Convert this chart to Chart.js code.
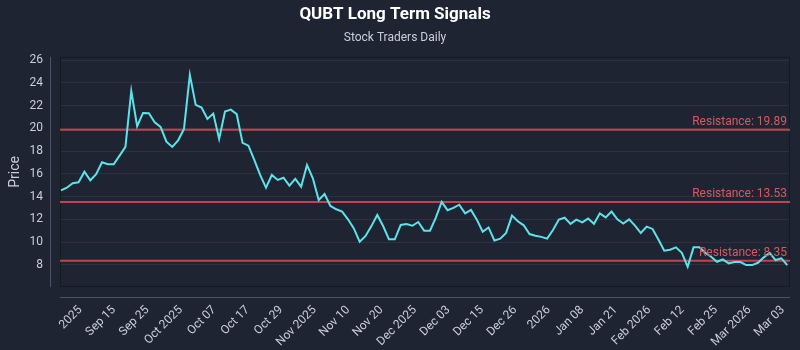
<!DOCTYPE html>
<html>
<head>
<meta charset="utf-8">
<script src="https://cdn.jsdelivr.net/npm/chart.js@4.4.1/dist/chart.umd.min.js"></script>
<style>
    html, body { margin: 0; padding: 0; background: #1f2433; }
    #wrap { width: 800px; height: 350px; }
</style>
</head>
<body>
<div id="wrap"><canvas id="chart"></canvas></div>
<script>
// daily closes, Sep 2025 - Mar 2026
const prices = [
    14.55, 14.78, 15.17, 15.26, 16.19, 15.43, 15.96, 17.02, 16.84, 16.84,
    17.6, 18.37, 23.3, 20.19, 21.36, 21.34, 20.54, 20.13, 18.83, 18.37,
    18.95, 19.95, 24.71, 22.07, 21.83, 20.83, 21.3, 19.07, 21.48, 21.65,
    21.25, 18.72, 18.48, 17.22, 15.9, 14.78, 15.9, 15.46, 15.66, 14.96,
    15.55, 14.87, 16.78, 15.61, 13.7, 14.23, 13.17, 12.88, 12.67, 12.0,
    11.2, 10.02, 10.53, 11.4, 12.38, 11.41, 10.24, 10.24, 11.5, 11.58,
    11.43, 11.76, 11.0, 11.0, 12.15, 13.53, 12.8, 13.0, 13.28, 12.52,
    12.82, 11.97, 10.9, 11.28, 10.14, 10.3, 10.8, 12.32, 11.82, 11.47,
    10.7, 10.55, 10.45, 10.3, 11.05, 11.97, 12.14, 11.6, 11.97, 11.73,
    12.06, 11.6, 12.52, 12.17, 12.68, 11.99, 11.62, 11.99, 11.44, 10.79,
    11.35, 11.15, 10.22, 9.23, 9.32, 9.53, 9.05, 7.82, 9.53, 9.53,
    9.05, 8.7, 8.26, 8.47, 8.12, 8.24, 8.24, 7.97, 7.97, 8.17,
    8.65, 9.05, 8.41, 8.56, 7.97
];

const tickLabels = [
    '2025', 'Sep 15', 'Sep 25', 'Oct 2025', 'Oct 07', 'Oct 17', 'Oct 29',
    'Nov 2025', 'Nov 10', 'Nov 20', 'Dec 2025', 'Dec 03', 'Dec 15', 'Dec 26',
    '2026', 'Jan 08', 'Jan 21', 'Feb 2026', 'Feb 12', 'Feb 25', 'Mar 2026', 'Mar 03'
];

const priceTicks = [8, 10, 12, 14, 16, 18, 20, 22, 24, 26];

const resistanceLevels = [19.89, 13.53, 8.35];

const textColor = '#c9ced8';
const lineColor = '#5ee2ea';
const resColor = '#c0444c';
const resLabelColor = '#d45a61';

Chart.defaults.font.family = "Roboto, sans-serif";
Chart.defaults.color = textColor;

// plot frame, offset axis lines and resistance levels
const frame = {
    id: 'frame',
    beforeDatasetsDraw(chart) {
        const {ctx, chartArea: a, scales: {y}} = chart;
        ctx.save();
        ctx.strokeStyle = '#151922';
        ctx.lineWidth = 1;
        ctx.strokeRect(a.left + 0.5, a.top + 0.5, a.width - 1, a.height - 1);

        ctx.strokeStyle = '#4c5364';
        ctx.beginPath();
        ctx.moveTo(a.left - 9.5, a.top);
        ctx.lineTo(a.left - 9.5, a.bottom);
        ctx.moveTo(a.left, a.bottom + 10.5);
        ctx.lineTo(a.right, a.bottom + 10.5);
        ctx.stroke();

        ctx.strokeStyle = resColor;
        ctx.lineWidth = 2;
        resistanceLevels.forEach(r => {
            const py = y.getPixelForValue(r);
            ctx.beginPath();
            ctx.moveTo(a.left, py);
            ctx.lineTo(a.right, py);
            ctx.stroke();
        });
        ctx.restore();
    },
    afterDatasetsDraw(chart) {
        const {ctx, chartArea: a, scales: {y}} = chart;
        ctx.save();
        ctx.fillStyle = resLabelColor;
        ctx.font = "12px " + Chart.defaults.font.family;
        ctx.textAlign = 'right';
        ctx.textBaseline = 'bottom';
        resistanceLevels.forEach(r => {
            ctx.fillText('Resistance: ' + r.toFixed(2), a.right - 3, y.getPixelForValue(r) - 2);
        });
        ctx.restore();
    }
};

new Chart(document.getElementById('chart'), {
    type: 'line',
    data: {
        datasets: [{
            data: prices.map((p, i) => ({x: i, y: p})),
            borderColor: lineColor,
            borderWidth: 2,
            pointRadius: 0,
            tension: 0
        }]
    },
    options: {
        responsive: true,
        maintainAspectRatio: false,
        animation: false,
        layout: {padding: {top: 0, right: 10, bottom: 0, left: 0}},
        plugins: {
            legend: {display: false},
            tooltip: {enabled: false},
            title: {
                display: true,
                text: 'QUBT Long Term Signals',
                color: '#ffffff',
                font: {size: 17, weight: 'bold'},
                padding: {top: 5, bottom: 5}
            },
            subtitle: {
                display: true,
                text: 'Stock Traders Daily',
                color: textColor,
                font: {size: 12},
                padding: {top: 0, bottom: 12}
            }
        },
        scales: {
            x: {
                type: 'linear',
                min: -0.17,
                max: 124.47,
                grid: {display: false, drawTicks: false},
                border: {display: false},
                afterBuildTicks: scale => {
                    scale.ticks = tickLabels.map((t, k) => ({value: 3.33 + k * 5.71}));
                },
                afterFit: scale => {
                    scale.height = 63;
                    scale.paddingLeft = 0;
                    scale.paddingRight = 0;
                },
                ticks: {
                    autoSkip: false,
                    minRotation: 45,
                    maxRotation: 45,
                    padding: 16,
                    font: {size: 12},
                    callback: (v, i) => tickLabels[i]
                }
            },
            y: {
                min: 6.04,
                max: 26.3,
                grid: {color: 'rgba(255,255,255,0.06)', drawTicks: false},
                border: {display: false},
                afterBuildTicks: scale => {
                    scale.ticks = priceTicks.map(v => ({value: v}));
                },
                afterFit: scale => { scale.width = 60; },
                ticks: {padding: 17, font: {size: 12}},
                title: {
                    display: true,
                    text: 'Price',
                    color: textColor,
                    font: {size: 14},
                    padding: {top: 7, bottom: 0}
                }
            }
        }
    },
    plugins: [frame]
});
</script>
</body>
</html>
